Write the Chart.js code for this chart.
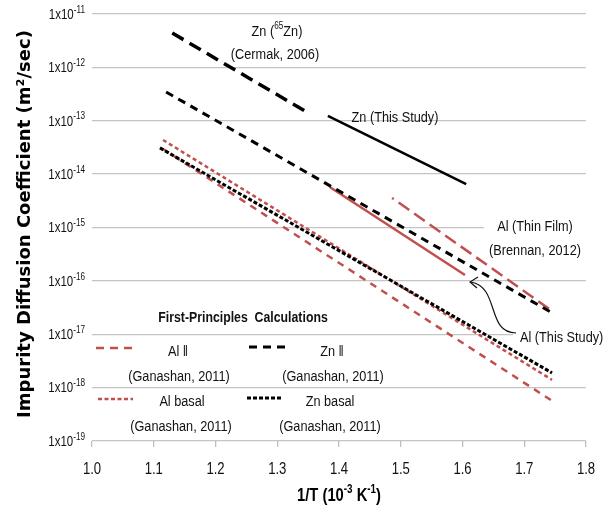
<!DOCTYPE html>
<html>
<head>
<meta charset="utf-8">
<script src="https://cdn.jsdelivr.net/npm/chart.js@4.4.1/dist/chart.umd.min.js"></script>
<style>
  html, body { margin: 0; padding: 0; background: #fff; }
  canvas { display: block; }
</style>
</head>
<body>
<canvas id="chart" width="613" height="514"></canvas>
<script>
// end points: x = 1/T (10^-3 K^-1), y = D (m^2/s)
const zn65X = [1.130, 1.353];
const zn65Y = [4.4e-12, 1.34e-13];
const znStudyX = [1.382, 1.606];
const znStudyY = [1.23e-13, 6.5e-15];
const znParX = [1.120, 1.745];
const znParY = [3.46e-13, 2.52e-17];
const alStudyX = [1.385, 1.604];
const alStudyY = [5.75e-15, 1.29e-16];
const alFilmX = [1.486, 1.745];
const alFilmY = [3.58e-15, 2.74e-17];
const alBasalX = [1.115, 1.745];
const alBasalY = [4.37e-14, 1.40e-18];
const znBasalX = [1.110, 1.745];
const znBasalY = [3.10e-14, 1.89e-18];
const alParX = [1.115, 1.745];
const alParY = [2.96e-14, 5.66e-19];

const xTicks = [1.0, 1.1, 1.2, 1.3, 1.4, 1.5, 1.6, 1.7, 1.8];
const yTickExps = [-11, -12, -13, -14, -15, -16, -17, -18, -19];

const RED = '#c0504d';
const FONT = '"Liberation Sans", Arial, sans-serif';
const SX = 0.82; // squeeze Liberation Sans towards the narrow face of the original

function pts(xs, ys) {
  return xs.map((x, i) => ({ x: x, y: ys[i] }));
}

function line(label, xs, ys, color, width, dash, offset) {
  return {
    label: label,
    data: pts(xs, ys),
    borderColor: color,
    borderWidth: width,
    borderDash: dash,
    borderDashOffset: offset || 0,
    borderCapStyle: 'butt',
    pointRadius: 0,
    fill: false,
    tension: 0
  };
}

function put(ctx, s, x, y) {
  ctx.save();
  ctx.translate(x, y);
  ctx.scale(SX, 1);
  ctx.fillText(s, 0, 0);
  ctx.restore();
}

// text with superscript runs: parts = [[text, isSup], ...]
function rich(ctx, parts, x, y, align, size, weight, supRatio) {
  const supSize = Math.round(size * (supRatio || 0.64));
  let total = 0;
  const widths = parts.map(p => {
    ctx.font = weight + ' ' + (p[1] ? supSize : size) + 'px ' + FONT;
    const w = ctx.measureText(p[0]).width * SX;
    total += w;
    return w;
  });
  let cx = align === 'center' ? x - total / 2 : align === 'right' ? x - total : x;
  ctx.textAlign = 'left';
  ctx.textBaseline = 'middle';
  parts.forEach((p, i) => {
    ctx.font = weight + ' ' + (p[1] ? supSize : size) + 'px ' + FONT;
    put(ctx, p[0], cx, p[1] ? y - size * 0.36 : y);
    cx += widths[i];
  });
}

function text(ctx, s, x, y, size, weight, align) {
  ctx.font = (weight || 'normal') + ' ' + size + 'px ' + FONT;
  ctx.textBaseline = 'middle';
  ctx.textAlign = 'left';
  const w = ctx.measureText(s).width * SX;
  const a = align || 'center';
  put(ctx, s, a === 'center' ? x - w / 2 : a === 'right' ? x - w : x, y);
}

function legendLine(ctx, x1, x2, y, color, width, dash) {
  ctx.save();
  ctx.strokeStyle = color;
  ctx.lineWidth = width;
  ctx.setLineDash(dash);
  ctx.beginPath();
  ctx.moveTo(x1, y);
  ctx.lineTo(x2, y);
  ctx.stroke();
  ctx.restore();
}

const decor = {
  id: 'decor',
  beforeDatasetsDraw(chart) {
    const ctx = chart.ctx;
    ctx.save();
    ctx.fillStyle = '#fff';
    ctx.fillRect(484, 212, 110, 52);
    ctx.fillRect(513, 326, 100, 22);
    ctx.restore();
  },
  afterDraw(chart) {
    const ctx = chart.ctx;
    const xs = chart.scales.x;
    const ys = chart.scales.y;
    ctx.save();
    ctx.fillStyle = '#111';

    // tick labels
    yTickExps.forEach(e => {
      const py = ys.getPixelForValue(Number('1e' + e));
      rich(ctx, [['1x10', false], [String(e), true]], 85, py + 1, 'right', 14, 'normal', 0.72);
    });
    xTicks.forEach(v => {
      text(ctx, v.toFixed(1), xs.getPixelForValue(v), 470, 16);
    });

    // axis titles
    ctx.fillStyle = '#000';
    rich(ctx, [['1/T (10', false], ['-3', true], [' K', false], ['-1', true], [')', false]],
      339, 496, 'center', 18, 'bold');
    const yTitle = 'Impurity Diffusion Coefficient (m\u00b2/sec)';
    ctx.font = 'bold 17px "DejaVu Sans", sans-serif';
    const fit = 17 * 388 / ctx.measureText(yTitle).width;
    ctx.save();
    ctx.translate(30, 224);
    ctx.rotate(-Math.PI / 2);
    ctx.font = 'bold ' + fit.toFixed(2) + 'px "DejaVu Sans", sans-serif';
    ctx.textAlign = 'center';
    ctx.textBaseline = 'alphabetic';
    ctx.fillText(yTitle, 0, 0);
    ctx.restore();

    // annotations
    ctx.fillStyle = '#111';
    rich(ctx, [['Zn (', false], ['65', true], ['Zn)', false]], 277, 32, 'center', 15.5, 'normal');
    text(ctx, '(Cermak, 2006)', 275, 55, 15.5);
    text(ctx, 'Zn (This Study)', 395, 118, 15.5);
    text(ctx, 'Al (Thin Film)', 535, 227, 15.5);
    text(ctx, '(Brennan, 2012)', 535, 251, 15.5);
    text(ctx, 'Al (This Study)', 520, 338, 15.5, 'normal', 'left');

    // curved arrow to Al (This Study)
    ctx.strokeStyle = '#111';
    ctx.lineWidth = 1.2;
    ctx.beginPath();
    ctx.moveTo(516, 333);
    ctx.bezierCurveTo(486, 333, 500, 287, 471, 282);
    ctx.stroke();
    ctx.beginPath();
    ctx.moveTo(478, 277);
    ctx.lineTo(470, 282);
    ctx.lineTo(477, 288);
    ctx.stroke();

    // first-principles legend
    text(ctx, 'First-Principles  Calculations', 243, 318, 15, 'bold');
    legendLine(ctx, 96, 132, 348, RED, 2.5, [8, 6]);
    legendLine(ctx, 249, 285, 347, '#000', 3, [8, 6]);
    legendLine(ctx, 98, 133, 399, RED, 2.5, [4, 2.5]);
    legendLine(ctx, 247, 282, 398, '#000', 3, [4, 2]);
    text(ctx, 'Al \u2016', 178, 352, 15.5);
    text(ctx, '(Ganashan, 2011)', 179, 377, 15.5);
    text(ctx, 'Zn \u2016', 332, 352, 15.5);
    text(ctx, '(Ganashan, 2011)', 333, 377, 15.5);
    text(ctx, 'Al basal', 182, 402, 15.5);
    text(ctx, '(Ganashan, 2011)', 181, 427, 15.5);
    text(ctx, 'Zn basal', 330, 402, 15.5);
    text(ctx, '(Ganashan, 2011)', 330, 427, 15.5);
    ctx.restore();
  }
};

new Chart(document.getElementById('chart'), {
  type: 'line',
  data: {
    datasets: [
      line('Zn (65Zn) Cermak 2006', zn65X, zn65Y, '#000', 3.5, [13, 7]),
      line('Zn (This Study)', znStudyX, znStudyY, '#000', 2.5, []),
      line('Zn \u2016', znParX, znParY, '#000', 3, [8, 6]),
      line('Al (This Study)', alStudyX, alStudyY, RED, 2.5, []),
      line('Al (Thin Film)', alFilmX, alFilmY, RED, 2.5, [13, 6], 11),
      line('Zn basal', znBasalX, znBasalY, '#000', 3, [4, 2]),
      line('Al basal', alBasalX, alBasalY, RED, 2.5, [4, 3]),
      line('Al \u2016', alParX, alParY, RED, 2.5, [7, 6])
    ]
  },
  plugins: [decor],
  options: {
    responsive: false,
    animation: false,
    devicePixelRatio: 1,
    layout: { padding: { top: 14, right: 27, left: 0, bottom: 0 } },
    plugins: { legend: { display: false }, tooltip: { enabled: false } },
    scales: {
      x: {
        type: 'linear',
        min: 1.0,
        max: 1.8,
        afterBuildTicks: (s) => { s.ticks = xTicks.map(v => ({ value: v })); },
        afterFit: (s) => { s.height = 73; },
        ticks: { display: false },
        grid: { drawOnChartArea: false, drawTicks: true, tickLength: 6, color: '#bfbfbf', lineWidth: 1.3 },
        border: { display: false }
      },
      y: {
        type: 'logarithmic',
        min: 1e-19,
        max: 1e-11,
        afterBuildTicks: (s) => { s.ticks = yTickExps.map(e => ({ value: Number('1e' + e) })); },
        afterFit: (s) => { s.width = 92; },
        ticks: { display: false },
        grid: { drawTicks: false, color: '#c4c4c4', lineWidth: 1.3 },
        border: { display: false }
      }
    }
  }
});
</script>
</body>
</html>
